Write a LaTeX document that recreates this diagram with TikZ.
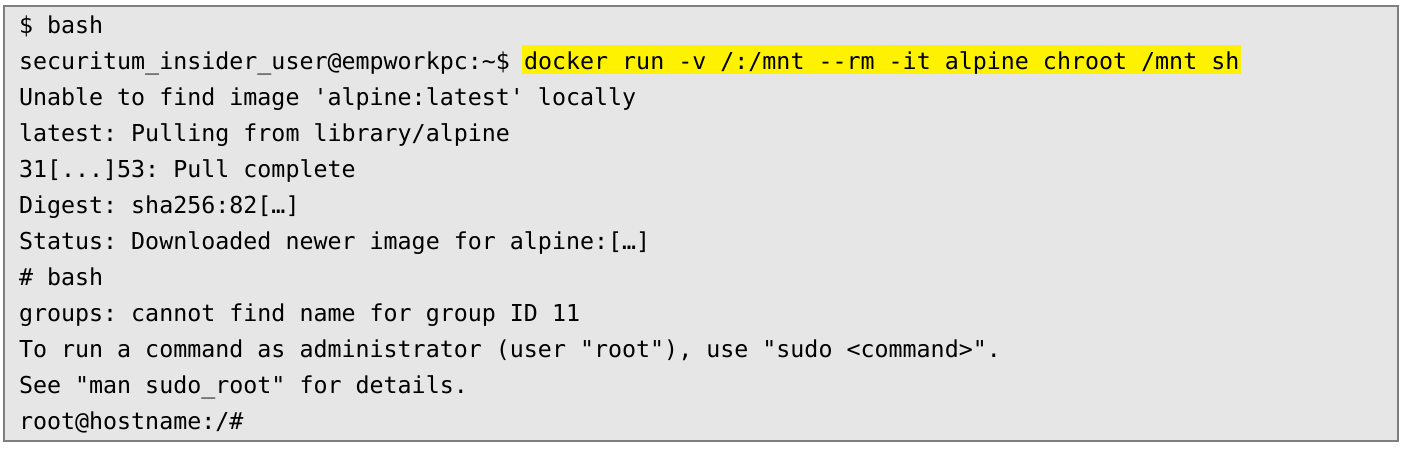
\documentclass[tikz,border=0pt]{standalone}
\usepackage{fontspec}
\setmonofont{DejaVu Sans Mono}
\usepackage{tikz}
\usetikzlibrary{positioning}
\definecolor{termbg}{HTML}{E7E6E6}
\definecolor{termframe}{HTML}{7F7F7F}

\begin{document}
\begin{tikzpicture}[x=1pt, y=-1pt, every node/.style={inner sep=0pt, outer sep=0pt, text height=26pt, text depth=10pt, anchor=north west, font=\ttfamily\fontsize{23.3}{36}\selectfont}, hl/.style={fill=yellow, inner xsep=2pt, text height=24.5pt, text depth=5pt}]
	\useasboundingbox (0,0) rectangle (1404,448);
	\draw[termframe, line width=1.5pt, fill=termbg] (4,6) rectangle (1398,441);
%     % host shell
    \node at (19,7)(bash) {\$ bash};
    \node[below=0pt of bash.south west, anchor=north west](prompt) {securitum\_insider\_user@empworkpc:\textasciitilde\$};
    \node[hl, anchor=base west, xshift=12.03pt] at (prompt.base east)(cmd) {docker run -v /:/mnt --rm -it alpine chroot /mnt sh};
    \node[below=0pt of prompt.south west, anchor=north west](unable) {Unable to find image 'alpine:latest' locally};
    \node[below=0pt of unable.south west, anchor=north west](pulling) {latest: Pulling from library/alpine};
    \node[below=0pt of pulling.south west, anchor=north west](pulled) {31[...]53: Pull complete};
    \node[below=0pt of pulled.south west, anchor=north west](digest) {Digest: sha256:82[…]};
    \node[below=0pt of digest.south west, anchor=north west](status) {Status: Downloaded newer image for alpine:[…]};
    % container shell
    \node[below=0pt of status.south west, anchor=north west](rootbash) {\# bash};
    \node[below=0pt of rootbash.south west, anchor=north west](groups) {groups: cannot find name for group ID 11};
    \node[below=0pt of groups.south west, anchor=north west](sudohint) {To run a command as administrator (user "root"), use "sudo <command>".};
    \node[below=0pt of sudohint.south west, anchor=north west](manhint) {See "man sudo\_root" for details.};
    \node[below=0pt of manhint.south west, anchor=north west](rootprompt) {root@hostname:/\#};
	\end{tikzpicture}
\end{document}
